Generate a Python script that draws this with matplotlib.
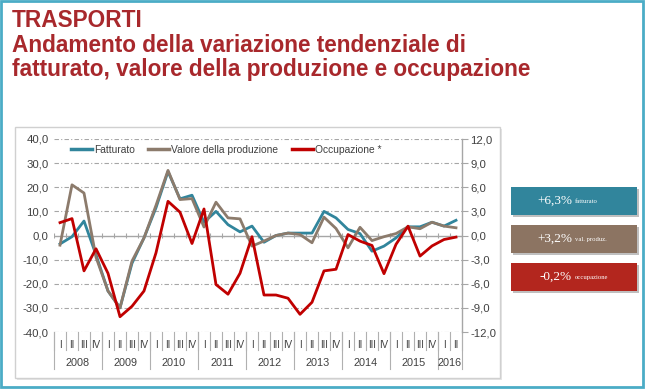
import matplotlib
matplotlib.use("Agg")
import matplotlib.pyplot as plt
from matplotlib.patches import Rectangle
from matplotlib.lines import Line2D

# ---------------- data ----------------
quarters = ["I", "II", "III", "IV"] * 8 + ["I", "II"]
years = ["2008", "2009", "2010", "2011", "2012", "2013", "2014", "2015", "2016"]
year_lengths = [4, 4, 4, 4, 4, 4, 4, 4, 2]

fatturato = [-3.5, -0.5, 6.0, -8.0, -23.0, -30.0, -11.5, -1.0, 11.5, 26.5, 15.2, 16.7,
             5.5, 10.0, 4.5, 1.5, 3.9, -2.8, 0.0, 1.0, 1.0, 1.0, 10.0, 7.3,
             2.5, 0.8, -6.5, -4.4, -1.0, 3.6, 3.6, 5.5, 3.9, 6.3]
valore = [-4.0, 21.0, 17.6, -9.0, -23.0, -30.0, -10.6, -1.0, 12.5, 27.0, 14.9, 15.3,
          3.5, 13.8, 7.3, 6.9, -4.4, -2.3, 0.0, 1.0, 0.4, -3.0, 7.6, 2.9,
          -5.1, 3.4, -2.1, -0.5, 0.8, 3.6, 2.8, 5.5, 3.9, 3.2]
occupazione = [1.6, 2.1, -4.4, -1.65, -4.7, -10.1, -8.8, -6.9, -2.15, 4.25, 2.9, -1.0,
               3.3, -6.1, -7.3, -4.7, -0.15, -7.4, -7.4, -7.8, -9.8, -8.3, -4.4, -4.2,
               0.12, -0.7, -1.24, -4.75, -1.1, 1.16, -2.56, -1.3, -0.5, -0.2]

left_ticks = [40, 30, 20, 10, 0, -10, -20, -30, -40]
right_ticks = [12, 9, 6, 3, 0, -3, -6, -9, -12]

series_names = ["Fatturato", "Valore della produzione", "Occupazione *"]
box_values = ["+6,3%", "+3,2%", "-0,2%"]
box_labels = ["fatturato", "val. produz.", "occupazione"]
title_lines = ["TRASPORTI", "Andamento della variazione tendenziale di",
               "fatturato, valore della produzione e occupazione"]

# ---------------- style ----------------
C_TEAL = "#31859C"
C_GREY = "#8C7B6C"
C_RED = "#C00000"
BOX_COLORS = ["#31859C", "#8C7462", "#B3261E"]
TITLE_COLOR = "#A8282C"
TXT = "#404040"

plt.rcParams["font.family"] = ["Liberation Sans", "DejaVu Sans"]

W, H = 645, 389
fig = plt.figure(figsize=(W / 100, H / 100), dpi=100)
fig.patch.set_facecolor("white")

def fx(px):
    return px / W

def fy(py):
    return 1 - py / H

# outer frame
fig.patches.append(Rectangle((fx(1), fy(387)), fx(642), 386 / H, transform=fig.transFigure,
                             fill=False, edgecolor="#4BACC6", lw=2.0, zorder=-3))
# chart panel (shadow + border)
fig.patches.append(Rectangle((fx(17), fy(380)), fx(485), 251 / H, transform=fig.transFigure,
                             fill=True, facecolor="#E6E6E6", edgecolor="none", zorder=-3))
fig.patches.append(Rectangle((fx(15), fy(378)), fx(485), 251 / H, transform=fig.transFigure,
                             facecolor="white", edgecolor="#D0D0D0", lw=1.0, zorder=-2))

# titles
for i, line in enumerate(title_lines):
    fig.text(fx(12), fy(27 + 24.5 * i), line, color=TITLE_COLOR, fontsize=16.3,
             fontweight="bold", ha="left", va="baseline")

# axes
ax = fig.add_axes([fx(54), fy(332), fx(408), 193 / H])
ax.set_facecolor("none")
x = list(range(len(quarters)))
ax.set_xlim(-0.5, len(quarters) - 0.5)
ax.set_ylim(-40, 40)
ax2 = ax.twinx()
ax2.set_ylim(-12, 12)

for v in left_ticks:
    if v == 0:
        continue
    ax.axhline(v, color="#A6A6A6", lw=0.8, ls=(0, (4, 2, 1, 2)), zorder=1)
ax.axhline(0, color="#A6A6A6", lw=1.0, zorder=1)
# small tick marks on zero line at category boundaries
bounds = [b - 0.5 for b in range(len(quarters) + 1)]
ax.vlines(bounds, -1.0, 1.0, color="#A6A6A6", lw=0.8, zorder=1)

ax.plot(x, fatturato, color=C_TEAL, lw=2.0, zorder=3)
ax.plot(x, valore, color=C_GREY, lw=2.0, zorder=3)
ax2.plot(x, occupazione, color=C_RED, lw=2.0, zorder=3)

for s in ["left", "top", "bottom"]:
    ax.spines[s].set_visible(False)
    ax2.spines[s].set_visible(False)
ax.spines["right"].set_visible(False)
ax2.spines["right"].set_color("#A6A6A6")
ax2.spines["right"].set_linewidth(1.0)

ax.set_yticks(left_ticks)
ax.set_yticklabels([f"{v:.1f}".replace(".", ",") for v in left_ticks], fontsize=8.2, color=TXT)
ax.tick_params(axis="y", length=0, pad=4)
ax2.set_yticks(right_ticks)
ax2.set_yticklabels([f"{v:.1f}".replace(".", ",") for v in right_ticks], fontsize=8.2, color=TXT)
ax2.tick_params(axis="y", length=4, direction="out", color="#A6A6A6", pad=2)
ax.set_xticks([])

# multi-level category axis
trans = ax.get_xaxis_transform()
for b in bounds:
    ax.plot([b, b], [0, -0.095], transform=trans, color="#B0B0B0", lw=0.8, clip_on=False)
for i, q in enumerate(quarters):
    ax.text(i, -0.068, q, transform=trans, ha="center", va="center", fontsize=7, color=TXT)
start = -0.5
for y, n in zip(years, year_lengths):
    ax.plot([start, start], [0, -0.19], transform=trans, color="#B0B0B0", lw=0.8, clip_on=False)
    ax.text(start + n / 2, -0.16, y, transform=trans, ha="center", va="center",
            fontsize=7.8, color=TXT)
    start += n
ax.plot([start, start], [0, -0.19], transform=trans, color="#B0B0B0", lw=0.8, clip_on=False)

# legend
handles = [Line2D([], [], color=c, lw=2.5) for c in (C_TEAL, C_GREY, C_RED)]
leg = ax2.legend(handles, series_names, loc="center left", bbox_to_anchor=(0.042, 0.943),
                 ncol=3, frameon=False, fontsize=7.4, handlelength=2.0, handletextpad=0.2,
                 columnspacing=1.35, borderpad=0, borderaxespad=0)
for t in leg.get_texts():
    t.set_color(TXT)

# side boxes
box_tops = [187, 225, 263]
for top, col, val, lab in zip(box_tops, BOX_COLORS, box_values, box_labels):
    fig.patches.append(Rectangle((fx(513), fy(top + 30)), fx(126), 28 / H, transform=fig.transFigure,
                                 facecolor="#BFBFBF", edgecolor="none", zorder=1))
    fig.patches.append(Rectangle((fx(511), fy(top + 28)), fx(126), 28 / H, transform=fig.transFigure,
                                 facecolor=col, edgecolor="none", zorder=2))
    fig.text(fx(572), fy(top + 14), val, color="white", fontsize=9.5,
             family=["Liberation Serif", "DejaVu Serif"], ha="right", va="center", zorder=3)
    fig.text(fx(575), fy(top + 14.5), lab, color="white", fontsize=4.8,
             family=["Liberation Serif", "DejaVu Serif"], ha="left", va="center", zorder=3)

fig.savefig("out.png", dpi=100)
